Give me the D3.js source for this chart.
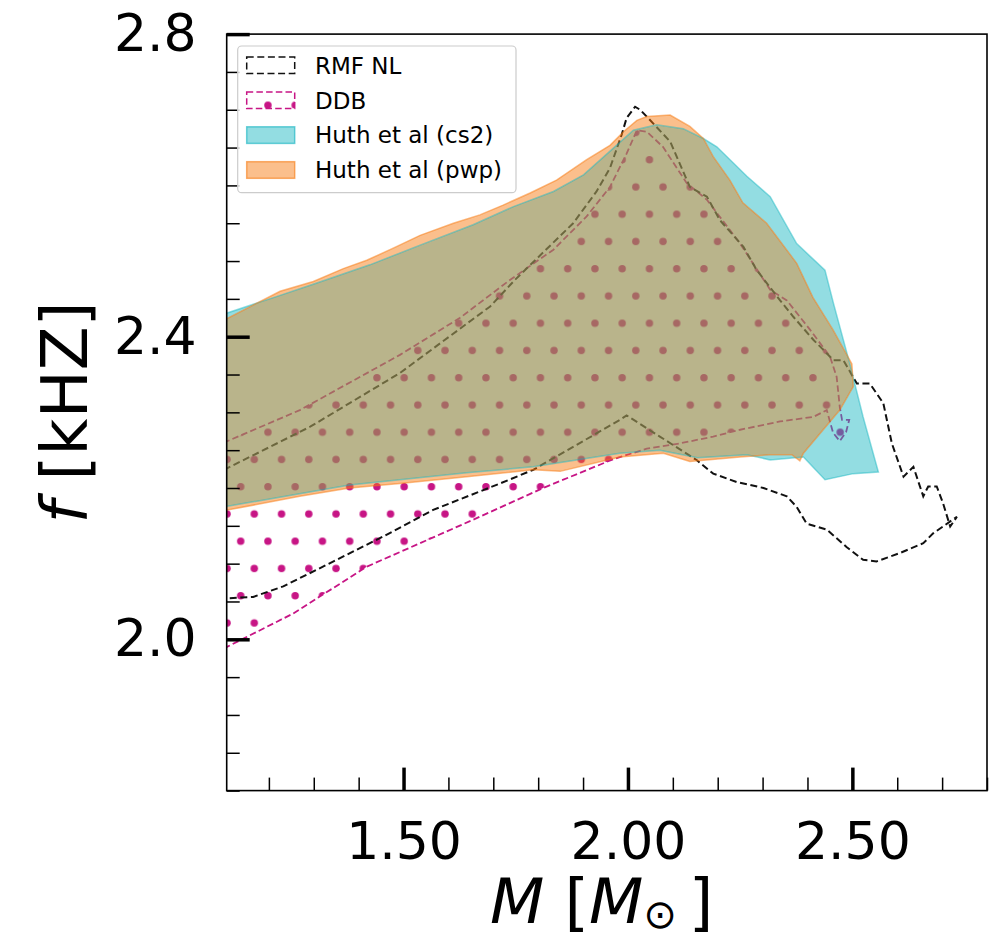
<!DOCTYPE html>
<meta charset="utf-8">
<script src="https://d3js.org/d3.v7.min.js"></script>
<style>
body { margin: 0; background: #fff; }
text { font-family: "DejaVu Sans", sans-serif; fill: #000; }
</style>
<body>
<script>

// contours, [M (Msun), f (kHz)]
var rmfNL = [
  [1.100, 2.224], [1.292, 2.281], [1.492, 2.352], [1.693, 2.440], [1.748, 2.475],
  [1.878, 2.550], [1.930, 2.592], [1.960, 2.623], [1.986, 2.667], [1.997, 2.689],
  [2.016, 2.704], [2.027, 2.700], [2.045, 2.689], [2.094, 2.658], [2.138, 2.598],
  [2.176, 2.585], [2.205, 2.554], [2.257, 2.519], [2.287, 2.488], [2.339, 2.448],
  [2.369, 2.426], [2.413, 2.396], [2.458, 2.369], [2.480, 2.369], [2.510, 2.338],
  [2.539, 2.338], [2.569, 2.312], [2.588, 2.259], [2.614, 2.215], [2.636, 2.228],
  [2.658, 2.189], [2.669, 2.202], [2.688, 2.202], [2.702, 2.180], [2.718, 2.149],
  [2.733, 2.162], [2.680, 2.140], [2.658, 2.127], [2.606, 2.114], [2.554, 2.103],
  [2.524, 2.105], [2.487, 2.122], [2.443, 2.145], [2.398, 2.153], [2.376, 2.175],
  [2.354, 2.189], [2.302, 2.200], [2.242, 2.208], [2.190, 2.219], [2.153, 2.237],
  [2.071, 2.268], [1.997, 2.296], [1.982, 2.290], [1.789, 2.224], [1.715, 2.206],
  [1.566, 2.171], [1.455, 2.136], [1.344, 2.103], [1.232, 2.070], [1.165, 2.056],
  [1.100, 2.054]
];

var ddb = [
  [1.100, 1.988], [1.254, 2.034], [1.418, 2.096], [1.655, 2.158], [1.811, 2.200],
  [1.893, 2.220], [1.967, 2.238], [2.042, 2.252], [2.116, 2.259], [2.190, 2.268],
  [2.250, 2.277], [2.339, 2.288], [2.413, 2.294], [2.443, 2.303], [2.457, 2.273],
  [2.472, 2.262], [2.486, 2.274], [2.493, 2.290], [2.477, 2.290], [2.472, 2.307],
  [2.465, 2.347], [2.450, 2.374], [2.406, 2.409], [2.354, 2.448], [2.317, 2.462],
  [2.250, 2.523], [2.176, 2.581], [2.131, 2.603], [2.078, 2.651], [2.042, 2.671],
  [2.020, 2.673], [1.997, 2.642], [1.960, 2.598], [1.908, 2.559], [1.834, 2.515],
  [1.737, 2.475], [1.626, 2.425], [1.492, 2.376], [1.269, 2.303], [1.100, 2.260]
];

var huthCs2 = [
  [1.100, 2.430], [1.217, 2.453], [1.307, 2.471], [1.425, 2.495], [1.537, 2.521],
  [1.655, 2.548], [1.745, 2.572], [1.834, 2.592], [1.901, 2.614], [1.967, 2.649],
  [2.012, 2.673], [2.064, 2.680], [2.123, 2.675], [2.168, 2.662], [2.198, 2.651],
  [2.265, 2.612], [2.317, 2.585], [2.376, 2.523], [2.439, 2.488], [2.458, 2.444],
  [2.494, 2.365], [2.524, 2.294], [2.558, 2.221], [2.502, 2.219], [2.439, 2.211],
  [2.391, 2.241], [2.317, 2.237], [2.265, 2.244], [2.155, 2.240], [2.071, 2.250],
  [1.982, 2.246], [1.789, 2.228], [1.641, 2.220], [1.380, 2.204], [1.100, 2.175]
];

var huthPwp = [
  [1.100, 2.422], [1.225, 2.460], [1.299, 2.473], [1.366, 2.490], [1.418, 2.501],
  [1.477, 2.517], [1.537, 2.534], [1.611, 2.550], [1.670, 2.561], [1.722, 2.574],
  [1.782, 2.590], [1.841, 2.607], [1.908, 2.634], [1.960, 2.653], [1.990, 2.671],
  [2.020, 2.686], [2.042, 2.691], [2.094, 2.693], [2.138, 2.678], [2.168, 2.662],
  [2.190, 2.638], [2.227, 2.607], [2.256, 2.577], [2.309, 2.550], [2.376, 2.497],
  [2.412, 2.452], [2.457, 2.409], [2.499, 2.364], [2.502, 2.334], [2.472, 2.303],
  [2.428, 2.272], [2.391, 2.246], [2.383, 2.236], [2.365, 2.244], [2.317, 2.244],
  [2.250, 2.241], [2.138, 2.235], [2.079, 2.246], [1.982, 2.241], [1.849, 2.222],
  [1.789, 2.224], [1.641, 2.215], [1.492, 2.206], [1.380, 2.200], [1.269, 2.189],
  [1.100, 2.170]
];

var xMajor = [1.5, 2.0, 2.5];
var xLabels = ["1.50", "2.00", "2.50"];
var yMajor = [2.0, 2.4, 2.8];
var yLabels = ["2.0", "2.4", "2.8"];
var legendNames = ["RMF NL", "DDB", "Huth et al (cs2)", "Huth et al (pwp)"];

var width = 993, height = 940;
var ddbColor = "#c71585";

var x = d3.scaleLinear().domain([1.106, 2.8]).range([226.7, 987]);
var y = d3.scaleLinear().domain([1.8, 2.8]).range([790.6, 34.1]);

var svg = d3.select("body").append("svg")
    .attr("width", width)
    .attr("height", height);

var defs = svg.append("defs");

var pw = x.range()[1] - x.range()[0],
    ph = y.range()[0] - y.range()[1];

defs.append("clipPath").attr("id", "plotClip")
  .append("rect")
    .attr("x", x.range()[0]).attr("y", y.range()[1])
    .attr("width", pw).attr("height", ph);

// dot hatch, staggered rows
var hatch = defs.append("pattern")
    .attr("id", "dots")
    .attr("patternUnits", "userSpaceOnUse")
    .attr("x", 233.9).attr("y", 473.1)
    .attr("width", 27.25).attr("height", 54.5);
hatch.append("circle").attr("cx", 6.8).attr("cy", 13.6).attr("r", 3.7).attr("fill", ddbColor);
hatch.append("circle").attr("cx", 20.4).attr("cy", 40.85).attr("r", 3.7).attr("fill", ddbColor);

var line = d3.line()
    .x(function(d) { return x(d[0]); })
    .y(function(d) { return y(d[1]); });

function closed(pts) { return line(pts) + "Z"; }

var cs2Path = closed(huthCs2),
    pwpPath = closed(huthPwp);

// masks so the overlap can get its own colour
var notPwp = defs.append("mask").attr("id", "notPwp").attr("maskUnits", "userSpaceOnUse")
    .attr("x", 0).attr("y", 0).attr("width", width).attr("height", height);
notPwp.append("rect").attr("width", width).attr("height", height).attr("fill", "white");
notPwp.append("path").attr("d", pwpPath).attr("fill", "black");

var notCs2 = defs.append("mask").attr("id", "notCs2").attr("maskUnits", "userSpaceOnUse")
    .attr("x", 0).attr("y", 0).attr("width", width).attr("height", height);
notCs2.append("rect").attr("width", width).attr("height", height).attr("fill", "white");
notCs2.append("path").attr("d", cs2Path).attr("fill", "black");

defs.append("clipPath").attr("id", "pwpClip")
  .append("path").attr("d", pwpPath);

var plot = svg.append("g").attr("clip-path", "url(#plotClip)");

// DDB hatch + outline
plot.append("path")
    .attr("d", closed(ddb))
    .attr("fill", "url(#dots)")
    .attr("stroke", ddbColor)
    .attr("stroke-width", 1.8)
    .attr("stroke-dasharray", "6.5,3.2");

// RMF NL outline
plot.append("path")
    .attr("d", closed(rmfNL))
    .attr("fill", "none")
    .attr("stroke", "#111")
    .attr("stroke-width", 2)
    .attr("stroke-dasharray", "7,3.6");

// Huth et al fills
plot.append("path")
    .attr("d", cs2Path)
    .attr("fill", "rgb(15,179,191)")
    .attr("fill-opacity", 0.45)
    .attr("mask", "url(#notPwp)");

plot.append("path")
    .attr("d", pwpPath)
    .attr("fill", "rgb(247,122,15)")
    .attr("fill-opacity", 0.48)
    .attr("mask", "url(#notCs2)");

plot.append("g").attr("clip-path", "url(#pwpClip)")
  .append("path")
    .attr("d", cs2Path)
    .attr("fill", "rgb(152,145,84)")
    .attr("fill-opacity", 0.68);

plot.append("path")
    .attr("d", cs2Path)
    .attr("fill", "none")
    .attr("stroke", "rgb(15,179,191)")
    .attr("stroke-opacity", 0.45)
    .attr("stroke-width", 1.5);

plot.append("path")
    .attr("d", pwpPath)
    .attr("fill", "none")
    .attr("stroke", "rgb(247,122,15)")
    .attr("stroke-opacity", 0.5)
    .attr("stroke-width", 1.5);

// axes, ticks pointing inward
var xMinor = x.ticks(20).filter(function(v) {
    return xMajor.every(function(m) { return Math.abs(m - v) > 1e-6; });
});
var yMinor = y.ticks(20).filter(function(v) {
    return yMajor.every(function(m) { return Math.abs(m - v) > 1e-6; });
});

var gx = svg.append("g")
    .attr("transform", "translate(0," + y.range()[0] + ")")
    .call(d3.axisBottom(x).tickValues(xMajor)
        .tickFormat(function(d, i) { return xLabels[i]; })
        .tickSize(-23).tickSizeOuter(0).tickPadding(31.5));
gx.select(".domain").remove();
gx.selectAll(".tick line").attr("stroke-width", 3.5);
gx.selectAll("text").style("font-size", "52px").style("font-family", "DejaVu Sans");

var gxm = svg.append("g")
    .attr("transform", "translate(0," + y.range()[0] + ")")
    .call(d3.axisBottom(x).tickValues(xMinor).tickFormat("").tickSize(-13).tickSizeOuter(0));
gxm.select(".domain").remove();
gxm.selectAll(".tick line").attr("stroke-width", 1.5);

var gy = svg.append("g")
    .attr("transform", "translate(" + x.range()[0] + ",0)")
    .call(d3.axisLeft(y).tickValues(yMajor)
        .tickFormat(function(d, i) { return yLabels[i]; })
        .tickSize(-23).tickSizeOuter(0).tickPadding(30));
gy.select(".domain").remove();
gy.selectAll(".tick line").attr("stroke-width", 3.5);
gy.selectAll("text").style("font-size", "52px").style("font-family", "DejaVu Sans");

var gym = svg.append("g")
    .attr("transform", "translate(" + x.range()[0] + ",0)")
    .call(d3.axisLeft(y).tickValues(yMinor).tickFormat("").tickSize(-13).tickSizeOuter(0));
gym.select(".domain").remove();
gym.selectAll(".tick line").attr("stroke-width", 1.5);

// frame
svg.append("rect")
    .attr("x", x.range()[0]).attr("y", y.range()[1])
    .attr("width", pw).attr("height", ph)
    .attr("fill", "none")
    .attr("stroke", "#000")
    .attr("stroke-width", 1.6);

// axis labels
var xl = svg.append("text")
    .attr("x", 490).attr("y", 923)
    .style("font-size", "63px");
xl.append("tspan").style("font-style", "italic").text("M");
xl.append("tspan").text(" [");
xl.append("tspan").style("font-style", "italic").text("M");
xl.append("tspan").attr("dy", 5).style("font-size", "40px").text("\u2299");
xl.append("tspan").attr("dy", -5).attr("dx", 12).text("]");

var yl = svg.append("text")
    .attr("transform", "translate(87," + ((y.range()[0] + y.range()[1]) / 2) + ") rotate(-90)")
    .attr("text-anchor", "middle")
    .style("font-size", "64px");
yl.append("tspan").style("font-style", "italic").text("f");
yl.append("tspan").text(" [kHZ]");

// legend
var lg = svg.append("g");
lg.append("rect")
    .attr("x", 237.7).attr("y", 46)
    .attr("width", 278.3).attr("height", 146.7)
    .attr("rx", 4)
    .attr("fill", "white").attr("fill-opacity", 0.8)
    .attr("stroke", "#cccccc").attr("stroke-width", 1.2);

var handleStyles = [
  {fill: "none", stroke: "#111", dash: "7,3.6", op: 1},
  {fill: "url(#dots)", stroke: ddbColor, dash: "6.5,3.2", op: 1},
  {fill: "rgb(15,179,191)", stroke: "rgb(15,179,191)", dash: null, op: 0.45},
  {fill: "rgb(247,122,15)", stroke: "rgb(247,122,15)", dash: null, op: 0.48}
];

legendNames.forEach(function(name, i) {
    var cy = 65.3 + i * 34.9;
    var s = handleStyles[i];
    lg.append("rect")
        .attr("x", 246.7).attr("y", cy - 8.3)
        .attr("width", 48).attr("height", 16.6)
        .attr("fill", s.fill)
        .attr("fill-opacity", s.op)
        .attr("stroke", s.stroke)
        .attr("stroke-opacity", s.dash ? 1 : 0.6)
        .attr("stroke-width", 1.5)
        .attr("stroke-dasharray", s.dash);
    lg.append("text")
        .attr("x", 315).attr("y", cy + 8.3)
        .style("font-size", "23px")
        .text(name);
});

</script>
</body>
</html>
